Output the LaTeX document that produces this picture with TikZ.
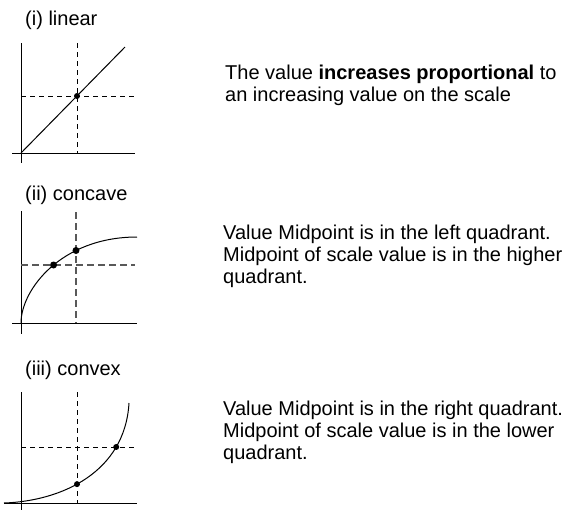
\documentclass[tikz,border=0pt]{standalone}
\usepackage{fontspec}
\setmainfont{Liberation Sans}
\usetikzlibrary{intersections}

\begin{document}
\begin{tikzpicture}[
  x=1pt, y=-1pt,
  font=\fontsize{20}{22}\selectfont,
  axis/.style={draw=black, line width=1pt},
  guide/.style={draw=black, line width=1pt, dash pattern=on 5pt off 4pt},
  greyguide/.style={draw=black!65, line width=1.3pt, dash pattern=on 7pt off 4pt},
  curve/.style={draw=black, line width=1pt},
  dot/.style={fill=black, circle, inner sep=0pt, minimum size=6pt},
  caption/.style={anchor=base west, inner sep=0pt},
  remark/.style={anchor=base west, inner sep=0pt, align=left}
]
\useasboundingbox (0,0) rectangle (564,512);

% (i) linear
\node[caption] (capA) at (25,25) {(i) linear};
\draw[axis] (21,43) -- (21,163);
\draw[axis] (12,153) -- (135,153);
\draw[guide] (77,43) -- (77,153);
\draw[guide] (21,96) -- (135,96);
\draw[curve] (21,153) -- (125,47);
\node[dot] (dotA) at (77,96) {};
\node[remark] (txtA) at (225,101)
  {The value \textbf{increases proportional} to\\an increasing value on the scale};

% (ii) concave
\node[caption] (capB) at (25,200) {(ii) concave};
\draw[axis] (21,211) -- (21,334);
\draw[axis] (12,323) -- (137,323);
\draw[greyguide, name path=vB] (76,212) -- (76,323);
\draw[greyguide, name path=hB] (21,265) -- (135,265);
\draw[curve, name path=cB] (21,323) .. controls (21,290) and (61,237) .. (137,237);
\path[name intersections={of=cB and hB, by=pB1}];
\path[name intersections={of=cB and vB, by=pB2}];
\node[dot, minimum size=7pt] (dotB1) at (pB1) {};
\node[dot, minimum size=7pt] (dotB2) at (pB2) {};
\node[remark] (txtB) at (223,283)
  {Value Midpoint is in the left quadrant.\\Midpoint of scale value is in the higher\\quadrant.};

% (iii) convex
\node[caption] (capC) at (25,375) {(iii) convex};
\draw[axis] (21,392) -- (21,510);
\draw[axis] (4,503) -- (137,503);
\draw[guide, name path=vC] (77,392) -- (77,503);
\draw[guide, name path=hC] (21,447) -- (135,447);
\draw[curve, name path=cC] (4,503) .. controls (62,501) and (125,472) .. (129,403);
\path[name intersections={of=cC and vC, by=pC1}];
\path[name intersections={of=cC and hC, by=pC2}];
\node[dot] (dotC1) at (pC1) {};
\node[dot] (dotC2) at (pC2) {};
\node[remark] (txtC) at (223,459)
  {Value Midpoint is in the right quadrant.\\Midpoint of scale value is in the lower\\quadrant.};

\end{tikzpicture}
\end{document}
